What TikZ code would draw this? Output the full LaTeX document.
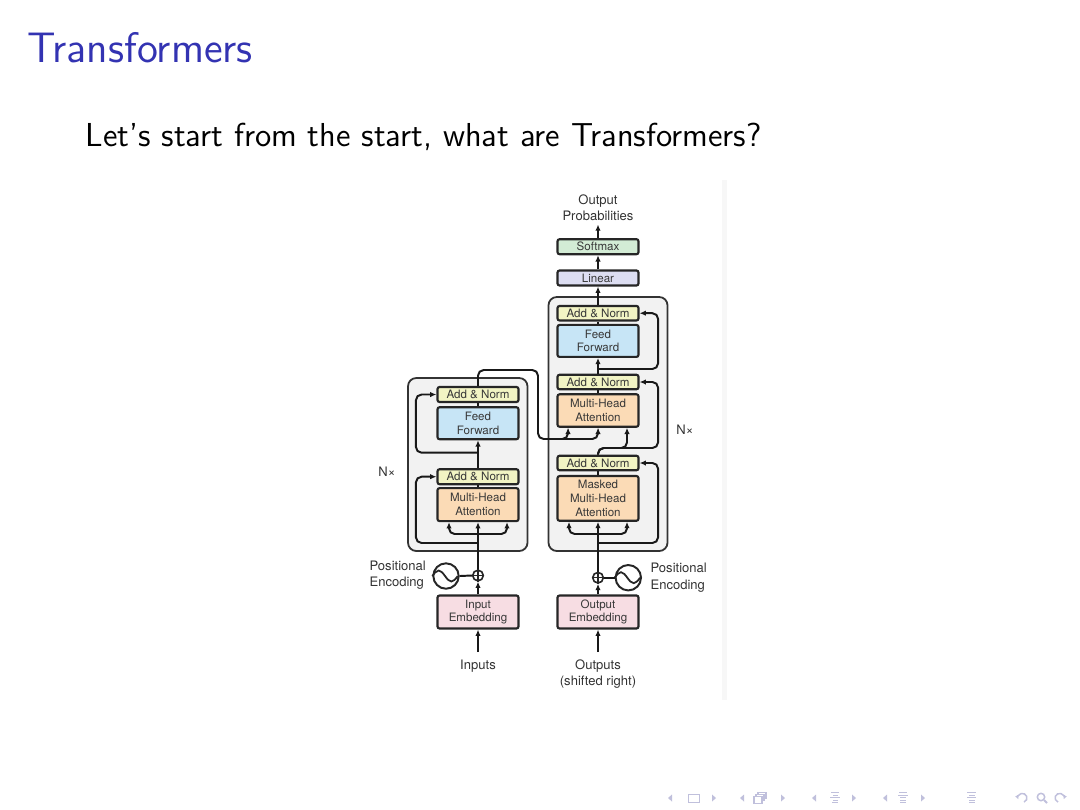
\documentclass[tikz,border=0pt]{standalone}
\usepackage{fontspec}
\usetikzlibrary{arrows.meta}
\newfontfamily\hv{TeX Gyre Heros}
\definecolor{btitle}{RGB}{51,51,178}
\definecolor{cnorm}{RGB}{242,244,196}
\definecolor{cff}{RGB}{199,229,246}
\definecolor{cmha}{RGB}{251,219,182}
\definecolor{cemb}{RGB}{247,221,227}
\definecolor{clin}{RGB}{221,222,242}
\definecolor{csoft}{RGB}{211,236,213}
\definecolor{cnav}{RGB}{192,192,220}
\def\pxl{0.0118519cm}
\begin{document}
\begin{tikzpicture}[x=0.0118519cm,y=-0.0118519cm,
  box/.style={draw=black!85, line width=0.72pt, rounded corners=0.7pt, minimum width=81*\pxl, inner sep=0pt, align=center,
     font=\hv\fontsize{3.9}{4.6}\selectfont, text=black!78},
  lbl/.style={inner sep=0pt, font=\hv\fontsize{4.4}{5.5}\selectfont, text=black!80},
  outerbox/.style={draw=black!80, fill=black!5, line width=0.6pt, rounded corners=2.8pt, inner sep=0pt},
  conn/.style={line width=0.66pt, black!90},
  arr/.style={conn, -{Latex[length=2.1pt,width=1.8pt]}},
  rc/.style={rounded corners=1.9pt},
  pluscirc/.style={circle, draw=black!85, line width=0.55pt, minimum size=10.6*\pxl, inner sep=0pt},
  sincirc/.style={circle, draw=black!85, line width=0.66pt, minimum size=25.4*\pxl, inner sep=0pt},
  navs/.style={cnav, line width=0.35pt}
]
\useasboundingbox (0,0) rectangle (1080,809);
\fill[white] (0,0) rectangle (1080,809);

% slide texts
\node[anchor=base west, inner sep=0pt, text=btitle, font=\sffamily\fontsize{14.4}{17}\selectfont] (title) at (27,62.7) {Transformers};
\node[anchor=base west, inner sep=0pt, font=\sffamily\fontsize{11.2}{13.6}\selectfont] (body) at (85,146.7) {Let’s start from the start, what are Transformers?};

% faint image edge
\fill[black!3] (722,180) rectangle (727,700);

% outer boxes
\node[outerbox, minimum width=119.5*\pxl, minimum height=173*\pxl] (encbox) at (467.75,464.5) {};
\node[outerbox, minimum width=119*\pxl, minimum height=254*\pxl] (decbox) at (608,424) {};

% encoder boxes
\node[box, fill=cnorm, minimum height=15*\pxl] (eAN2) at (478,394.5) {Add \& Norm};
\node[box, fill=cff, minimum height=32*\pxl] (eFF) at (478,423.2) {Feed\\Forward};
\node[box, fill=cnorm, minimum height=15*\pxl] (eAN1) at (478,476.7) {Add \& Norm};
\node[box, fill=cmha, minimum height=33*\pxl] (eMHA) at (478,504.6) {Multi-Head\\Attention};
\node[box, fill=cemb, minimum height=33*\pxl] (eEmb) at (478,612) {Input\\Embedding};
\node[pluscirc] (eplus) at (478,575.5) {};
\node[sincirc] (esin) at (446,576) {};

% decoder boxes
\node[box, fill=csoft, minimum height=15*\pxl] (soft) at (598,246.7) {Softmax};
\node[box, fill=clin, minimum height=15*\pxl] (lin) at (598,278) {Linear};
\node[box, fill=cnorm, minimum height=14.5*\pxl] (dAN3) at (598,313.2) {Add \& Norm};
\node[box, fill=cff, minimum height=32*\pxl] (dFF) at (598,340.9) {Feed\\Forward};
\node[box, fill=cnorm, minimum height=14.5*\pxl] (dAN2) at (598,382) {Add \& Norm};
\node[box, fill=cmha, minimum height=32.4*\pxl] (dMHA2) at (598,410.5) {Multi-Head\\Attention};
\node[box, fill=cnorm, minimum height=14.5*\pxl] (dAN1) at (598,463) {Add \& Norm};
\node[box, fill=cmha, minimum height=44.7*\pxl] (dMHA1) at (598,498.4) {Masked\\Multi-Head\\Attention};
\node[box, fill=cemb, minimum height=33*\pxl] (dEmb) at (598,612) {Output\\Embedding};
\node[pluscirc] (dplus) at (598,577.7) {};
\node[sincirc] (dsin) at (628.3,577.7) {};

% labels
\node[lbl, align=center] (outprob) at (598,208) {Output\\Probabilities};
\node[lbl, align=left, anchor=west] (epos) at (369,575.2) {Positional\\Encoding};
\node[lbl, align=left, anchor=west] (dpos) at (650,577.6) {Positional\\Encoding};
\node[lbl] (enx) at (387,471.7) {N×};
\node[lbl] (dnx) at (685,430) {N×};
\node[lbl, anchor=north] (inputs) at (478,659) {Inputs};
\node[lbl, align=center, anchor=north] (outputs) at (598,659) {Outputs\\(shifted right)};

% coordinates
\coordinate (ein) at (478,652);
\coordinate (din) at (598,652);
\coordinate (ebr) at (478,534);
\coordinate (eres1) at (478,543);
\coordinate (eres2) at (478,452.7);
\coordinate (eo1) at (478,370);
\coordinate (eo2) at (538,370);
\coordinate (eo3) at (538,439);
\coordinate (eo4) at (560,439);
\coordinate (dbr) at (598,534);
\coordinate (dres1) at (598,543);
\coordinate (dq) at (598,448);
\coordinate (dres3) at (598,369);
\coordinate (optop) at (598,224.5);

% plus signs and sine waves
\draw[line width=0.5pt, black!85] (eplus.north) -- (eplus.south) (eplus.west) -- (eplus.east);
\draw[line width=0.5pt, black!85] (dplus.north) -- (dplus.south) (dplus.west) -- (dplus.east);
\draw[line width=0.6pt, black!85] (esin.west) sin +(6.35,-5.5) cos +(6.35,5.5) sin +(6.35,5.5) cos +(6.35,-5.5);
\draw[line width=0.6pt, black!85] (dsin.west) sin +(6.35,-5.5) cos +(6.35,5.5) sin +(6.35,5.5) cos +(6.35,-5.5);

% encoder connections
\draw[arr] (ein) -- (eEmb.south);
\draw[arr] (eEmb.north) -- (eplus.south);
\draw[conn] (esin.east) -- (eplus.west);
\draw[conn] (eplus.north) -- (ebr);
\draw[arr] (ebr) -- (eMHA.south);
\draw[arr, rc] (ebr) -| ([xshift=-29*\pxl]eMHA.south);
\draw[arr, rc] (ebr) -| ([xshift=29*\pxl]eMHA.south);
\draw[arr, rc] (eres1) -| ([xshift=-20.5*\pxl]eAN1.west) -- (eAN1.west);
\draw[conn] (eMHA.north) -- (eAN1.south);
\draw[arr] (eAN1.north) -- (eFF.south);
\draw[arr, rc] (eres2) -| ([xshift=-20.5*\pxl]eAN2.west) -- (eAN2.west);
\draw[conn] (eFF.north) -- (eAN2.south);
\draw[arr, rc] (eAN2.north) -- (eo1) -- (eo2) -- (eo3) -| ([xshift=-30*\pxl]dMHA2.south);
\draw[arr, rc] (eo4) -| (dMHA2.south);

% decoder connections
\draw[arr] (din) -- (dEmb.south);
\draw[arr] (dEmb.north) -- (dplus.south);
\draw[conn] (dsin.west) -- (dplus.east);
\draw[conn] (dplus.north) -- (dbr);
\draw[arr] (dbr) -- (dMHA1.south);
\draw[arr, rc] (dbr) -| ([xshift=-29*\pxl]dMHA1.south);
\draw[arr, rc] (dbr) -| ([xshift=29*\pxl]dMHA1.south);
\draw[arr, rc] (dres1) -| ([xshift=18.5*\pxl]dAN1.east) -- (dAN1.east);
\draw[conn] (dMHA1.north) -- (dAN1.south);
\draw[arr, rc] (dAN1.north) -- (dq) -| ([xshift=29*\pxl]dMHA2.south);
\draw[arr, rc] (dAN1.north) -- (dq) -| ([xshift=18.5*\pxl]dAN2.east) -- (dAN2.east);
\draw[conn] (dMHA2.north) -- (dAN2.south);
\draw[arr] (dAN2.north) -- (dFF.south);
\draw[arr, rc] (dres3) -| ([xshift=18.5*\pxl]dAN3.east) -- (dAN3.east);
\draw[conn] (dFF.north) -- (dAN3.south);
\draw[arr] (dAN3.north) -- (lin.south);
\draw[arr] (lin.north) -- (soft.south);
\draw[arr] (soft.north) -- (optop);

% navigation symbols
\fill[cnav] (672,794.5) -- (668,798) -- (672,801.5) -- cycle;
\draw[navs] (688.5,794) rectangle (699.5,802);
\fill[cnav] (712,794.5) -- (716,798) -- (712,801.5) -- cycle;
\fill[cnav] (744,794.5) -- (740,798) -- (744,801.5) -- cycle;
\draw[navs, fill=white] (758,792.5) rectangle (766,798);
\draw[navs, fill=white] (756,794.5) rectangle (764,800);
\draw[navs, fill=white] (754,796.5) rectangle (762,803);
\fill[cnav] (781,794.5) -- (785,798) -- (781,801.5) -- cycle;
\fill[cnav] (816,794.5) -- (812,798) -- (816,801.5) -- cycle;
\draw[navs] (831,792.5) -- (839,792.5) (833,795) -- (838,795) (830,797.5) -- (840,797.5) (833,800) -- (838,800) (832,802.5) -- (838,802.5);
\fill[cnav] (852,794.5) -- (856,798) -- (852,801.5) -- cycle;
\fill[cnav] (887,794.5) -- (883,798) -- (887,801.5) -- cycle;
\draw[navs] (899,792.5) -- (907,792.5) (898,795) -- (908,795) (900,797.5) -- (906,797.5) (900,800) -- (906,800) (900,802.5) -- (906,802.5);
\fill[cnav] (921,794.5) -- (925,798) -- (921,801.5) -- cycle;
\draw[navs] (967,792.5) -- (976,792.5) (969,795) -- (975,795) (967,797.5) -- (976,797.5) (969,800) -- (975,800) (969,802.5) -- (975,802.5);
\draw[navs, line width=0.5pt, -{Latex[length=1.3pt,width=1.4pt]}] (1024,802) arc[start angle=-70, end angle=200, radius=1.5pt];
\draw[navs, line width=0.5pt] (1041,797) circle[radius=1.25pt];
\draw[navs, line width=0.6pt] (1044,800) -- (1047,803);
\draw[navs, line width=0.5pt, -{Latex[length=1.3pt,width=1.4pt]}] (1058,802) arc[start angle=250, end angle=-20, radius=1.5pt];
\end{tikzpicture}
\end{document}
